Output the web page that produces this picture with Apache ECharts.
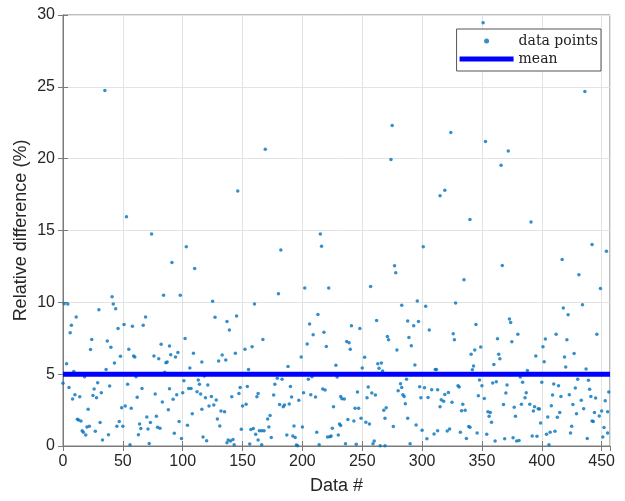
<!DOCTYPE html>
<html>
<head>
<meta charset="utf-8">
<script src="https://cdn.jsdelivr.net/npm/echarts@6/dist/echarts.min.js"></script>
<style>
  html, body { margin: 0; padding: 0; background: #fff; }
  #chart { width: 625px; height: 501px; }
</style>
</head>
<body>
<div id="chart"></div>
<script>
// data #
const dataIdx = [
  0, 1, 3, 4, 5, 6, 7, 8, 9, 10, 11, 12, 13, 14, 15, 16, 17, 18, 19, 20,
  21, 22, 23, 24, 25, 26, 27, 28, 29, 30, 31, 32, 33, 35, 36, 37, 38, 39, 40, 41,
  42, 43, 44, 45, 46, 47, 48, 49, 50, 51, 52, 53, 54, 55, 56, 57, 58, 59, 60, 61,
  62, 63, 64, 65, 66, 67, 69, 70, 71, 72, 73, 74, 76, 77, 78, 79, 80, 81, 82, 83,
  84, 85, 86, 87, 88, 89, 89, 90, 91, 92, 93, 94, 95, 96, 97, 98, 99, 100, 101, 102,
  103, 104, 105, 106, 107, 108, 109, 110, 112, 113, 114, 115, 116, 116, 117, 118, 119, 120, 121, 122,
  124, 125, 126, 127, 128, 129, 130, 131, 132, 133, 135, 136, 137, 137, 138, 139, 140, 141, 142, 143,
  144, 145, 146, 147, 148, 149, 150, 152, 153, 154, 155, 156, 157, 158, 159, 160, 161, 162, 163, 163,
  164, 166, 166, 167, 168, 169, 171, 172, 173, 174, 176, 177, 179, 180, 181, 182, 183, 184, 185, 187,
  188, 189, 190, 191, 192, 193, 194, 195, 196, 197, 199, 200, 201, 202, 204, 205, 206, 207, 208, 209,
  211, 212, 213, 214, 215, 216, 217, 218, 219, 220, 221, 222, 223, 224, 225, 226, 228, 229, 230, 231,
  232, 232, 233, 235, 236, 237, 238, 239, 240, 241, 243, 244, 245, 246, 247, 248, 249, 250, 252, 253,
  254, 255, 256, 257, 258, 259, 260, 261, 262, 263, 264, 265, 266, 267, 268, 269, 269, 270, 271, 272,
  274, 275, 276, 277, 278, 279, 280, 282, 283, 283, 284, 285, 286, 287, 288, 288, 289, 290, 291, 293,
  294, 295, 296, 297, 298, 299, 300, 301, 302, 303, 304, 305, 306, 308, 310, 311, 312, 313, 313, 315,
  315, 316, 318, 319, 319, 321, 322, 323, 324, 325, 326, 327, 328, 330, 331, 332, 333, 334, 335, 336,
  337, 339, 340, 340, 341, 342, 343, 344, 345, 346, 347, 348, 349, 350, 351, 352, 353, 354, 355, 356,
  357, 358, 359, 360, 361, 362, 363, 364, 365, 366, 367, 368, 369, 370, 371, 372, 373, 374, 375, 376,
  377, 378, 379, 380, 381, 382, 383, 384, 386, 387, 388, 390, 391, 392, 393, 394, 395, 396, 397, 398,
  399, 400, 401, 402, 403, 404, 405, 406, 407, 408, 409, 410, 411, 412, 413, 414, 415, 416, 417, 418,
  419, 420, 421, 422, 423, 424, 425, 426, 427, 428, 429, 430, 431, 433, 434, 435, 436, 437, 438, 439,
  440, 441, 442, 442, 443, 444, 445, 446, 448, 449, 450, 451, 452, 453, 454, 455, 455, 456
];
// relative difference (%)
const relDiff = [
  4.36, 9.9, 5.73, 9.88, 4.08, 7.89, 8.4, 3.27, 5.19, 3.57, 8.98, 1.86, 1.81, 3.43, 1.74, 1.07, 0.95, 4.82, 0.77, 1.32,
  2.55, 1.37, 6.71, 7.42, 3.52, 3.97, 1.02, 3.36, 4.41, 9.49, 1.63, 3.71, 0.42, 24.75, 5.33, 7.31, 0.79, 4.17, 6.87, 10.39,
  9.88, 5.78, 9.56, 1.37, 8.17, 1.7, 6.25, 2.67, 1.37, 8.46, 2.78, 15.96, 4.29, 6.73, 0.09, 2.62, 8.33, 6.27, 6.2, 4.82,
  3.39, 0.79, 1.54, 1.21, 4.01, 8.4, 8.98, 2.02, 1.19, 0.18, 1.63, 14.75, 6.27, 3.62, 2.07, 1.3, 6.08, 1.23, 7.08, 3.06,
  10.5, 5.14, 5.8, 5.84, 2.53, 6.96, 3.99, 6.36, 12.78, 3.25, 0.88, 6.2, 3.57, 6.5, 1.7, 10.5, 0.53, 3.71, 4.55, 7.49,
  13.87, 1.44, 4.01, 5.43, 4.01, 2.25, 6.45, 12.36, 3.78, 4.6, 4.29, 3.62, 5.84, 2.55, 0.62, 4.88, 3.36, 0.37, 4.25, 2.79,
  3.45, 10.07, 2.85, 8.96, 3.2, 1.88, 5.91, 1.4, 2.43, 6.33, 2.39, 5.98, 8.67, 0.23, 0.42, 8.07, 0.35, 3.43, 0.46, 0.09,
  6.45, 9.05, 17.75, 3.66, 4.08, 1.16, 2.79, 6.73, 2.9, 4.15, 5.33, 0.14, 1.14, 6.9, 1.21, 9.88, 0.81, 3.43, 3.66, 0.42,
  1.07, 0.09, 1.07, 7.42, 1.07, 20.65, 1.88, 1.32, 2.13, 0.6, 3.55, 4.29, 4.71, 10.6, 2.88, 13.65, 4.64, 2.74, 2.85, 0.76,
  5.53, 2.92, 4.15, 3.41, 0.69, 1.4, 0.6, 0.07, 0.02, 3.18, 6.2, 1.32, 3.71, 10.99, 7.1, 4.64, 8.49, 3.57, 4.82, 7.75,
  3.41, 0.95, 9.16, 0.09, 14.75, 13.9, 3.97, 7.91, 3.9, 6.93, 0.62, 10.99, 0.65, 0.69, 1.23, 2.74, 5.62, 4.8, 0.76, 1.54,
  3.45, 1.42, 3.29, 3.27, 0.16, 7.28, 1.84, 7.19, 6.73, 8.37, 1.74, 2.62, 0.12, 3.76, 2.62, 8.17, 1.93, 5.43, 6.17, 1.65,
  3.36, 4.1, 1.54, 11.1, 3.69, 0.16, 0.35, 3.55, 8.74, 5.73, 5.41, 0.02, 5.78, 5.22, 2.48, 0.02, 1.93, 2.67, 7.63, 7.4,
  19.95, 22.3, 1.35, 12.55, 12.06, 6.68, 3.85, 4.34, 9.79, 4.08, 3.57, 3.45, 2.94, 4.64, 8.7, 1.93, 7.56, 0.16, 6.98, 8.37,
  5.64, 1.47, 10.09, 8.67, 4.13, 3.36, 1.09, 13.87, 4.06, 9.72, 0.51, 3.38, 8.07, 3.92, 0.83, 5.33, 5.33, 3.92, 1.07, 17.42,
  2.74, 3.22, 3.11, 17.8, 3.59, 1.05, 3.73, 1.19, 21.83, 3.04, 7.82, 7.4, 9.95, 4.2, 4.1, 0.95, 2.46, 2.9, 11.57, 2.48,
  0.53, 1.35, 15.77, 1.3, 6.38, 5.31, 5.57, 6.68, 8.46, 0.9, 3.5, 4.6, 6.89, 4.2, 29.46, 3.31, 21.2, 0.81, 2.39, 2.07,
  2.34, 1.65, 4.39, 5.68, 0.35, 4.48, 7.47, 6.38, 6.08, 19.55, 12.57, 2.88, 0.51, 3.69, 4.25, 20.53, 8.84, 8.6, 7.26, 0.58,
  2.69, 2.07, 0.35, 7.77, 0.39, 4.8, 2.9, 4.43, 3.36, 3.71, 5.26, 2.9, 15.59, 0.69, 2.43, 2.74, 6.27, 0.67, 2.6, 2.58,
  1.6, 4.43, 6.91, 5.87, 7.44, 0.81, 2.02, 0.09, 0.95, 2.81, 3.55, 4.32, 1.02, 7.77, 2.0, 4.2, 2.34, 3.45, 12.99, 9.6,
  6.2, 5.5, 7.4, 9.14, 3.57, 0.9, 1.37, 2.88, 6.43, 4.04, 2.25, 4.64, 11.92, 3.18, 9.83, 2.6, 24.68, 5.36, 0.53, 4.57,
  3.95, 3.45, 14.03, 1.74, 1.7, 2.34, 3.34, 7.77, 2.09, 10.97, 2.43, 0.62, 1.28, 3.15, 13.55, 0.9, 2.39, 3.76
];
const meanValue = 5.0;
const xMax = 457;
const yTicks = [0, 5, 10, 15, 20, 25, 30];

const points = dataIdx.map((d, i) => [d, relDiff[i]]);
const meanLine = [[0, meanValue], [xMax, meanValue]];

const axisGray = '#7a7a7a';
const textGray = '#262626';
const sans = 'Liberation Sans, Arial, sans-serif';

const chart = echarts.init(document.getElementById('chart'));
chart.setOption({
  animation: false,
  backgroundColor: '#fff',
  grid: {
    left: 63, right: 15, top: 15, bottom: 55,
    show: true, borderColor: axisGray, borderWidth: 1, backgroundColor: '#fff'
  },
  legend: {
    orient: 'vertical',
    right: 24,
    top: 29,
    padding: [3, 3, 3, 3],
    itemGap: 0,
    itemWidth: 54,
    itemHeight: 5,
    borderColor: '#555',
    borderWidth: 1,
    backgroundColor: '#fff',
    selectedMode: false,
    textStyle: { fontFamily: 'DejaVu Serif', fontSize: 14, lineHeight: 18, color: '#222' },
    data: [
      { name: 'data points', icon: 'circle' },
      { name: 'mean', icon: 'rect' }
    ]
  },
  xAxis: [{
    type: 'value',
    min: 0, max: xMax, interval: 50,
    name: 'Data #',
    nameLocation: 'middle',
    nameGap: 31,
    nameMoveOverlap: false,
    nameTextStyle: { fontFamily: sans, fontSize: 18, color: textGray },
    axisLine: { show: true, lineStyle: { color: axisGray } },
    axisTick: { show: true, inside: true, length: 5, lineStyle: { color: axisGray } },
    axisLabel: { fontFamily: sans, fontSize: 16, color: textGray, margin: 8, showMaxLabel: false },
    splitLine: { show: true, lineStyle: { color: '#e3e3e3' } }
  }, {
    type: 'value',
    position: 'top',
    min: 0, max: xMax, interval: 50,
    axisLine: { show: true, lineStyle: { color: axisGray } },
    axisTick: { show: true, inside: true, length: 5, lineStyle: { color: axisGray } },
    axisLabel: { show: false },
    splitLine: { show: false }
  }],
  yAxis: [{
    type: 'value',
    min: yTicks[0], max: yTicks[yTicks.length - 1], interval: 5,
    name: 'Relative difference (%)',
    nameLocation: 'middle',
    nameGap: 33,
    nameMoveOverlap: false,
    nameTextStyle: { fontFamily: sans, fontSize: 18, color: textGray },
    axisLine: { show: true, lineStyle: { color: axisGray } },
    axisTick: { show: true, inside: true, length: 5, lineStyle: { color: axisGray } },
    axisLabel: { fontFamily: sans, fontSize: 16, color: textGray, margin: 8 },
    splitLine: { show: true, lineStyle: { color: '#e3e3e3' } }
  }, {
    type: 'value',
    position: 'right',
    min: yTicks[0], max: yTicks[yTicks.length - 1], interval: 5,
    axisLine: { show: true, lineStyle: { color: axisGray } },
    axisTick: { show: true, inside: true, length: 5, lineStyle: { color: axisGray } },
    axisLabel: { show: false },
    splitLine: { show: false }
  }],
  series: [{
    name: 'data points',
    type: 'scatter',
    data: points,
    symbolSize: 3.5,
    itemStyle: { color: '#0072BD' },
    z: 2
  }, {
    name: 'mean',
    type: 'line',
    data: meanLine,
    showSymbol: false,
    lineStyle: { color: '#0000ff', width: 5 },
    itemStyle: { color: '#0000ff' },
    z: 3
  }]
});
</script>
</body>
</html>
